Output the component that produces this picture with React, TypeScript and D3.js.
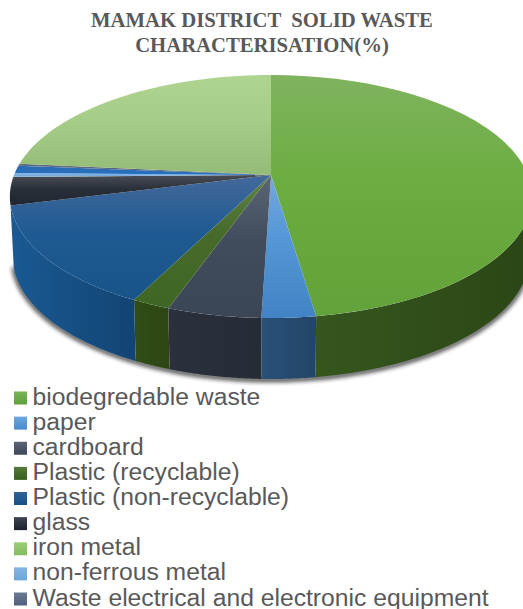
import React from "react";
import * as d3 from "d3";

const titleLines = ["MAMAK DISTRICT  SOLID WASTE", "CHARACTERISATION(%)"];
const legendLabels = [
  "biodegredable waste", "paper", "cardboard", "Plastic (recyclable)", "Plastic (non-recyclable)",
  "glass", "iron metal", "non-ferrous metal", "Waste electrical and electronic equipment",
];
// Slice order clockwise from 12 o'clock; the last entries are categories whose legend rows are cropped.
const sliceNames = ["biodegredable waste", "paper", "cardboard", "Plastic (recyclable)", "Plastic (non-recyclable)", "glass", "iron metal", "non-ferrous metal", "unlisted blue", "Waste electrical and electronic equipment", "unlisted light green"];
const sliceValues = [47.6, 2.8, 4.9, 2.0, 13.6, 3.7, 0.02, 0.5, 1.0, 0.3, 23.4];
const topStart = ["#80b35f", "#75a8dc", "#5b6575", "#5f8345", "#44699b", "#4a4d57", "#8fc46c", "#8ab6e2", "#2f6cb0", "#646f86", "#aed490"];
const topMid = ["#6bad40", "#5497d6", "#414c5c", "#466a2a", "#1f5a92", "#2a3039", "#8fc46c", "#7cafe0", "#2a6eb8", "#5a6680", "#a6cd88"];
const topEnd = ["#62a23a", "#4183c4", "#3a4556", "#3f6624", "#185488", "#1e2631", "#8fc46c", "#6fa5dc", "#2471c0", "#515f7c", "#94bc76"];
const sideDark = ["#2b4616", "#234567", "#262c36", "#2d4614", "#124474", "#181d25", "#4a6b30", "#3d6080", "#1a4a80", "#323c4e", "#5b7a44"];
const sideLight = ["#36561e", "#2a5078", "#2b313c", "#324d17", "#1a5a92", "#20262f", "#56793a", "#4a7096", "#205a98", "#3b4559", "#6b8c50"];
const legendStart = ["#7ab356", "#6aa6e0", "#5a6476", "#557a3a", "#2f6398", "#3e4450", "#9ccf78", "#86b6e4", "#6b7a94"];
const legendEnd = ["#60a23a", "#4a8ccf", "#3c475a", "#38601f", "#155088", "#1c232e", "#82bc5c", "#6ca4d8", "#505e7c"];

const W = 523, H = 609;
const apexX = 271, apexY = 175;
const k = 0.177, A = 117.7, B = 257;
const depth = 61;
const sideFrom = (100 * Math.PI) / 180;
const sideTo = (255.8 * Math.PI) / 180;

function rim(a: number, r = 1): [number, number] {
  const u = Math.sin(a) * r, v = -Math.cos(a) * r;
  const d = 1 - k * v;
  return [apexX + (B * u) / d, apexY + (A * v) / d];
}
const arcSamples = (a0: number, a1: number) => d3.range(0, 41).map((i) => a0 + ((a1 - a0) * i) / 40);
const line = d3.line<[number, number]>();
const lowerRim = ([x, y]: [number, number], extra = 0): [number, number] => [x + (271 - x) * 0.012, y + depth + extra];

export default function App() {
  const pie = d3.pie<number>().sort(null).value((d) => d);
  const arcs = pie(sliceValues);
  const sides = arcs.filter((s) => s.startAngle < sideTo && s.endAngle > sideFrom);
  const topPath = (s: d3.PieArcDatum<number>) =>
    line([[apexX, apexY], ...arcSamples(s.startAngle, s.endAngle).map((a) => rim(a))]) + "Z";
  const sidePath = (s: d3.PieArcDatum<number>) => {
    const a0 = Math.max(s.startAngle, sideFrom), a1 = Math.min(s.endAngle, sideTo);
    const upper = arcSamples(a0, a1).map((a) => rim(a));
    const lower = upper.slice().reverse().map((p) => lowerRim(p));
    return line([...upper, ...lower]) + "Z";
  };
  const shadowPts = arcSamples(sideFrom, sideTo).map((a) => lowerRim(rim(a), 1));
  const legendY = d3.scalePoint<string>().domain(legendLabels).range([397, 598]);

  return (
    <svg width={W} height={H} style={{ position: "absolute", left: 0, top: 0, background: "#fff" }}>
      <defs>
        <filter id="blur" x="-10%" y="-30%" width="120%" height="160%"><feGaussianBlur stdDeviation="2.2" /></filter>
        {sliceNames.map((_, i) => (
          <linearGradient key={i} id={`top${i}`} x1="0" y1="0" x2="0" y2="1">
            <stop offset="0" stopColor={topStart[i]} />
            <stop offset="0.45" stopColor={topMid[i]} />
            <stop offset="1" stopColor={topEnd[i]} />
          </linearGradient>
        ))}
        {sliceNames.map((_, i) => {
          const s = arcs[i];
          const x0 = rim(Math.max(s.startAngle, sideFrom))[0];
          const x1 = rim(Math.min(Math.max(s.endAngle, sideFrom), sideTo))[0];
          return (
            <linearGradient key={i} id={`side${i}`} gradientUnits="userSpaceOnUse" x1={x0} y1="0" x2={x1} y2="0">
              <stop offset="0" stopColor={sideDark[i]} />
              <stop offset="1" stopColor={sideLight[i]} />
            </linearGradient>
          );
        })}
        {legendLabels.map((_, i) => (
          <linearGradient key={i} id={`leg${i}`} x1="0" y1="0" x2="0" y2="1">
            <stop offset="0" stopColor={legendStart[i]} />
            <stop offset="1" stopColor={legendEnd[i]} />
          </linearGradient>
        ))}
      </defs>
      {titleLines.map((t, i) => (
        <text key={t} x={262} y={27 + i * 25} textAnchor="middle" fontFamily="Liberation Serif" fontWeight="bold" fontSize={20.7} fill="#595959" style={{ whiteSpace: "pre" }}>{t}</text>
      ))}
      <path d={line(shadowPts) ?? ""} fill="none" stroke="#222" strokeWidth={4} filter="url(#blur)" opacity={0.9} />
      {sides.map((s) => (
        <path key={s.index} d={sidePath(s)} fill={`url(#side${s.index})`} />
      ))}
      {arcs.map((s) => (
        <path key={s.index} d={topPath(s)} fill={`url(#top${s.index})`} />
      ))}
      {legendLabels.map((t, i) => (
        <g key={t}>
          <rect x={14} y={legendY(t)! - 5.5} width={13} height={13} fill={`url(#leg${i})`} />
          <text x={32.5} y={legendY(t)! + 7.5} fontFamily="Liberation Sans" fontSize={24.7} fill="#595959">{t}</text>
        </g>
      ))}
    </svg>
  );
}
